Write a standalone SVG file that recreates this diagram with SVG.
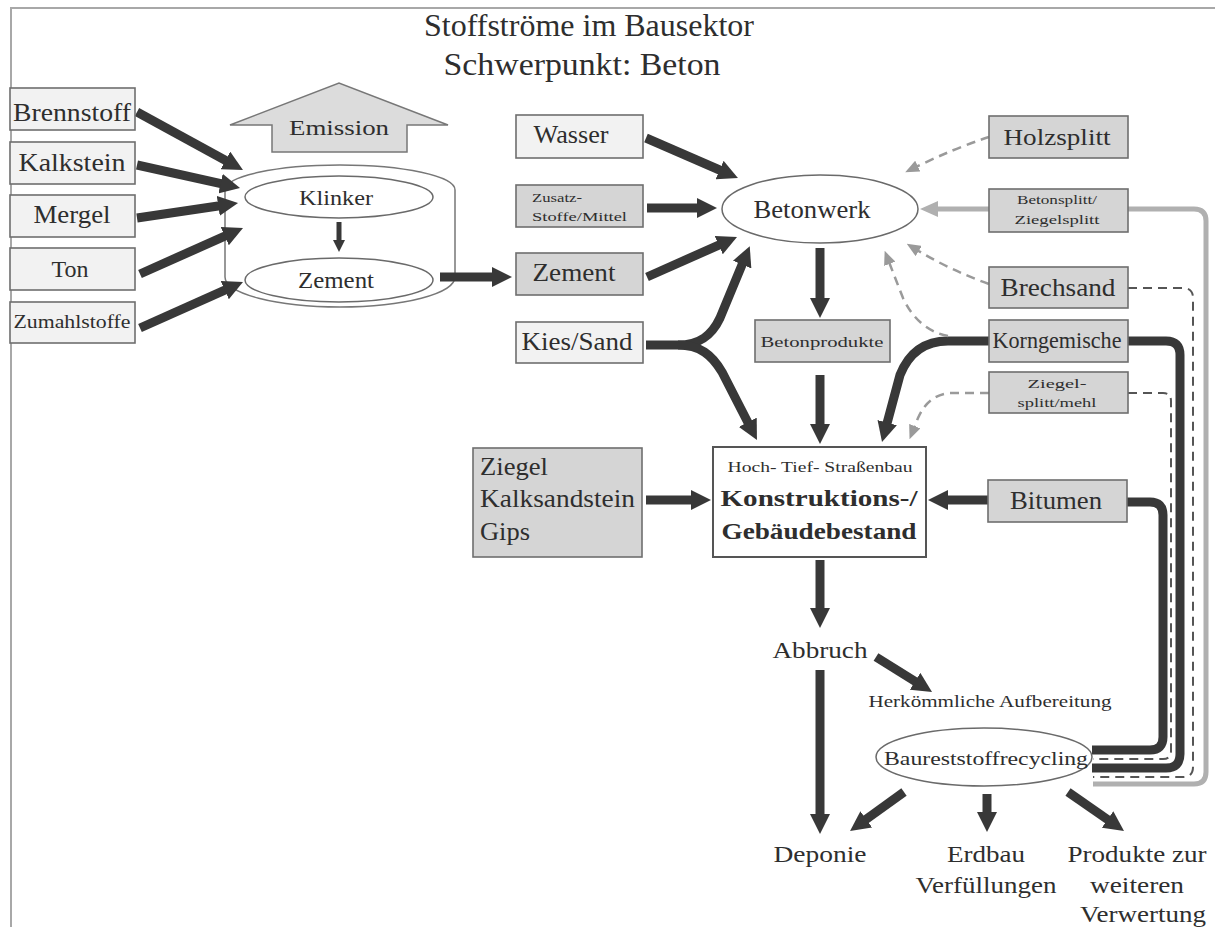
<svg xmlns="http://www.w3.org/2000/svg" width="1215" height="927" viewBox="0 0 1215 927">
<style>
.frame{stroke:#a8a8a8;stroke-width:2;fill:none}
.box{stroke:#6e6e6e;stroke-width:1.6}
.lt{fill:#f2f2f2}
.gr{fill:#d5d5d5}
.wh{fill:#ffffff;stroke:#555;stroke-width:2}
.ell{fill:#fff;stroke:#6a6a6a;stroke-width:1.5}
.t{font-family:"Liberation Serif","Times New Roman",serif;fill:#2e2e2e}
.c{text-anchor:middle}
.b{font-weight:bold}
.a{fill:none;stroke:#383838;stroke-width:9;marker-end:url(#ah)}
.as{fill:none;stroke:#383838;stroke-width:5;marker-end:url(#ahs)}
.k{fill:none;stroke:#383838;stroke-width:9}
.d{fill:none;stroke:#555;stroke-width:2;stroke-dasharray:9 6}
.da{fill:none;stroke:#9a9a9a;stroke-width:2.5;stroke-dasharray:9 6;marker-end:url(#gh)}
.g{fill:none;stroke:#b0b0b0;stroke-width:5}
.ga{fill:none;stroke:#b0b0b0;stroke-width:5;marker-end:url(#gah)}
</style>
<defs>
<marker id="ah" viewBox="0 0 20 20" markerWidth="20" markerHeight="20" refX="5" refY="10" orient="auto" markerUnits="userSpaceOnUse"><path d="M0,0 L20,10 L0,20 z" fill="#383838"/></marker>
<marker id="ahs" viewBox="0 0 12 12" markerWidth="12" markerHeight="12" refX="3" refY="6" orient="auto" markerUnits="userSpaceOnUse"><path d="M0,0 L12,6 L0,12 z" fill="#383838"/></marker>
<marker id="gh" viewBox="0 0 14 12" markerWidth="14" markerHeight="12" refX="2" refY="6" orient="auto" markerUnits="userSpaceOnUse"><path d="M0,0 L14,6 L0,12 z" fill="#9a9a9a"/></marker>
<marker id="gah" viewBox="0 0 18 16" markerWidth="18" markerHeight="16" refX="4" refY="8" orient="auto" markerUnits="userSpaceOnUse"><path d="M0,0 L18,8 L0,16 z" fill="#b0b0b0"/></marker>
</defs>
<rect width="1215" height="927" fill="#fff"/>
<path class="frame" d="M10 8 L1215 8 M11 8 L11 927"/>

<g id="title">
<text class="t c" x="589" y="36" font-size="32" fill="#444" textLength="330" lengthAdjust="spacingAndGlyphs">Stoffströme im Bausektor</text>
<text class="t c" x="582" y="75" font-size="32" fill="#444" textLength="277" lengthAdjust="spacingAndGlyphs">Schwerpunkt: Beton</text>
</g>

<g id="zementwerk">
<path d="M225 190 A115 25 0 0 1 455 190 L455 277 A115 30 0 0 1 225 277 Z" fill="#fff" stroke="#777" stroke-width="1.5"/>
</g>

<g id="connectors">
<path class="a" d="M137 112 L229.8 162.8"/>
<path class="a" d="M137 165 L225.4 184.7"/>
<path class="a" d="M137 218 L223.2 205.2"/>
<path class="a" d="M140 274 L229.3 234.1"/>
<path class="a" d="M140 328 L229.3 288.1"/>
<path class="as" d="M339 222 L339 243"/>
<path class="a" d="M440 277 L497 277"/>
<path class="a" d="M646 138 L724.2 172"/>
<path class="a" d="M647 208 L702 208"/>
<path class="a" d="M647 277 L723.3 243.1"/>
<path class="a" d="M646 345 L678 345 C700 345 712 335 720 318 L744 260"/>
<path class="a" d="M678 345 C700 345 712 355 722 372 L750.1 426.7"/>
<path class="a" d="M820 248 L820 303"/>
<path class="a" d="M820 375 L820 429"/>
<path class="a" d="M989 341 L948 341 C922 341 908 355 900 375 L885.9 427.5"/>
<path class="a" d="M646 500 L696 500"/>
<path class="a" d="M988 500 L943 500"/>
<path class="a" d="M820 560 L820 613"/>
<path class="a" d="M820 670 L820 819"/>
<path class="a" d="M876 657 L919.3 684"/>
<path class="a" d="M904 792 L862.2 822.2"/>
<path class="a" d="M987 794 L987 817"/>
<path class="a" d="M1068 792 L1111.7 822.4"/>
<path class="g" d="M1128 209 L1194 209 Q1206 209 1206 221 L1206 772 Q1206 784 1194 784 L1093 784"/>
<path class="ga" d="M989 209 L934 209"/>
<path class="d" d="M1128 288 L1183 288 Q1193 288 1193 298 L1193 767 Q1193 777 1183 777 L1093 777"/>
<path class="k" d="M1128 341 L1166 341 Q1180 341 1180 355 L1180 754 Q1180 768 1166 768 L1092 768"/>
<path class="d" d="M1128 393 L1163 393 Q1171 393 1171 401 L1171 751 Q1171 759 1163 759 L1093 759"/>
<path class="k" d="M1127 502 L1150 502 Q1163 502 1163 515 L1163 737 Q1163 750 1150 750 L1092 750"/>
<path class="da" d="M989 137 Q955 148 916 167"/>
<path class="da" d="M989 284 Q950 270 917 250"/>
<path class="da" d="M948 336 Q918 330 903 298 L889 262"/>
<path class="da" d="M989 393 L950 393 Q928 395 918 418 L914 428"/>
</g>

<g id="brennstoff"><rect class="box lt" x="10" y="88" width="125" height="42"/><text class="t c" x="72" y="121" font-size="25" textLength="118" lengthAdjust="spacingAndGlyphs">Brennstoff</text></g>
<g id="kalkstein"><rect class="box lt" x="10" y="142" width="125" height="42"/><text class="t c" x="72" y="171" font-size="25" textLength="107" lengthAdjust="spacingAndGlyphs">Kalkstein</text></g>
<g id="mergel"><rect class="box lt" x="10" y="195" width="125" height="42"/><text class="t c" x="72" y="223" font-size="25" textLength="77" lengthAdjust="spacingAndGlyphs">Mergel</text></g>
<g id="ton"><rect class="box lt" x="10" y="248" width="125" height="42"/><text class="t c" x="70" y="277" font-size="24">Ton</text></g>
<g id="zumahlstoffe"><rect class="box lt" x="10" y="302" width="125" height="41"/><text class="t c" x="72" y="328" font-size="18" textLength="117" lengthAdjust="spacingAndGlyphs">Zumahlstoffe</text></g>

<g id="emission"><polygon points="230,125 339,83 448,125 407,125 407,152 272,152 272,125" fill="#dcdcdc" stroke="#777" stroke-width="1.5"/><text class="t c" x="339" y="135" font-size="22" textLength="100" lengthAdjust="spacingAndGlyphs">Emission</text></g>

<g id="klinker"><ellipse class="ell" cx="339" cy="197" rx="94" ry="21"/><text class="t c" x="336" y="205" font-size="22" textLength="74" lengthAdjust="spacingAndGlyphs">Klinker</text></g>
<g id="zement-cyl"><ellipse class="ell" cx="339" cy="280" rx="94" ry="22"/><text class="t c" x="336" y="288" font-size="24" textLength="76" lengthAdjust="spacingAndGlyphs">Zement</text></g>

<g id="wasser"><rect class="box lt" x="516" y="115" width="127" height="43"/><text class="t c" x="571" y="143" font-size="25" textLength="75" lengthAdjust="spacingAndGlyphs">Wasser</text></g>
<g id="zusatz"><rect class="box gr" x="516" y="185" width="127" height="42"/><text class="t" x="532" y="202" font-size="13" textLength="50" lengthAdjust="spacingAndGlyphs">Zusatz-</text><text class="t" x="532" y="221" font-size="13" textLength="95" lengthAdjust="spacingAndGlyphs">Stoffe/Mittel</text></g>
<g id="zement-box"><rect class="box gr" x="516" y="253" width="127" height="42"/><text class="t c" x="574" y="281" font-size="26" textLength="83" lengthAdjust="spacingAndGlyphs">Zement</text></g>
<g id="kiessand"><rect class="box lt" x="516" y="322" width="127" height="41"/><text class="t c" x="577" y="350" font-size="26" textLength="111" lengthAdjust="spacingAndGlyphs">Kies/Sand</text></g>

<g id="betonwerk"><ellipse class="ell" cx="820" cy="209" rx="98" ry="34"/><text class="t c" x="812" y="218" font-size="26" textLength="117" lengthAdjust="spacingAndGlyphs">Betonwerk</text></g>
<g id="betonprodukte"><rect class="box gr" x="755" y="320" width="135" height="42"/><text class="t c" x="822" y="347" font-size="15" textLength="123" lengthAdjust="spacingAndGlyphs">Betonprodukte</text></g>

<g id="holzsplitt"><rect class="box gr" x="989" y="116" width="139" height="42"/><text class="t c" x="1057" y="145" font-size="24" textLength="107" lengthAdjust="spacingAndGlyphs">Holzsplitt</text></g>
<g id="betonsplitt"><rect class="box gr" x="989" y="189" width="139" height="43"/><text class="t c" x="1057" y="204" font-size="13" textLength="80" lengthAdjust="spacingAndGlyphs">Betonsplitt/</text><text class="t c" x="1057" y="224" font-size="13" textLength="85" lengthAdjust="spacingAndGlyphs">Ziegelsplitt</text></g>
<g id="brechsand"><rect class="box gr" x="989" y="267" width="139" height="41"/><text class="t c" x="1058" y="296" font-size="25" textLength="115" lengthAdjust="spacingAndGlyphs">Brechsand</text></g>
<g id="korngemische"><rect class="box gr" x="989" y="320" width="139" height="42"/><text class="t c" x="1057" y="348" font-size="23" textLength="129" lengthAdjust="spacingAndGlyphs">Korngemische</text></g>
<g id="ziegelsplitt"><rect class="box gr" x="989" y="372" width="139" height="41"/><text class="t c" x="1057" y="388" font-size="13" textLength="59" lengthAdjust="spacingAndGlyphs">Ziegel-</text><text class="t c" x="1057" y="407" font-size="13" textLength="79" lengthAdjust="spacingAndGlyphs">splitt/mehl</text></g>
<g id="bitumen"><rect class="box gr" x="988" y="480" width="139" height="42"/><text class="t c" x="1056" y="509" font-size="25" textLength="92" lengthAdjust="spacingAndGlyphs">Bitumen</text></g>

<g id="ziegel"><rect class="box gr" x="473" y="448" width="169" height="109"/><text class="t" x="480" y="475" font-size="26" textLength="68" lengthAdjust="spacingAndGlyphs">Ziegel</text><text class="t" x="480" y="507" font-size="26" textLength="155" lengthAdjust="spacingAndGlyphs">Kalksandstein</text><text class="t" x="480" y="540" font-size="26" textLength="50" lengthAdjust="spacingAndGlyphs">Gips</text></g>

<g id="konstruktion"><rect class="wh" x="713" y="447" width="213" height="110"/><text class="t c" x="820" y="472" font-size="14" textLength="185" lengthAdjust="spacingAndGlyphs">Hoch- Tief- Straßenbau</text><text class="t c b" x="819" y="506" font-size="23" textLength="197" lengthAdjust="spacingAndGlyphs">Konstruktions-/</text><text class="t c b" x="819" y="539" font-size="23" textLength="195" lengthAdjust="spacingAndGlyphs">Gebäudebestand</text></g>

<g id="abbruch"><text class="t c" x="820" y="658" font-size="24" textLength="95" lengthAdjust="spacingAndGlyphs">Abbruch</text></g>
<g id="aufbereitung"><text class="t c" x="990" y="707" font-size="17" textLength="243" lengthAdjust="spacingAndGlyphs">Herkömmliche Aufbereitung</text></g>
<g id="recycling"><ellipse class="ell" cx="984" cy="757" rx="108" ry="29"/><text class="t c" x="986" y="765" font-size="19" textLength="204" lengthAdjust="spacingAndGlyphs">Baureststoffrecycling</text></g>
<g id="deponie"><text class="t c" x="820" y="862" font-size="24" textLength="93" lengthAdjust="spacingAndGlyphs">Deponie</text></g>
<g id="erdbau"><text class="t c" x="986" y="862" font-size="24" textLength="78" lengthAdjust="spacingAndGlyphs">Erdbau</text><text class="t c" x="986" y="893" font-size="24" textLength="141" lengthAdjust="spacingAndGlyphs">Verfüllungen</text></g>
<g id="produkte"><text class="t c" x="1137" y="862" font-size="24" textLength="139" lengthAdjust="spacingAndGlyphs">Produkte zur</text><text class="t c" x="1137" y="893" font-size="24" textLength="94" lengthAdjust="spacingAndGlyphs">weiteren</text><text class="t c" x="1143" y="922" font-size="24" textLength="126" lengthAdjust="spacingAndGlyphs">Verwertung</text></g>
</svg>
